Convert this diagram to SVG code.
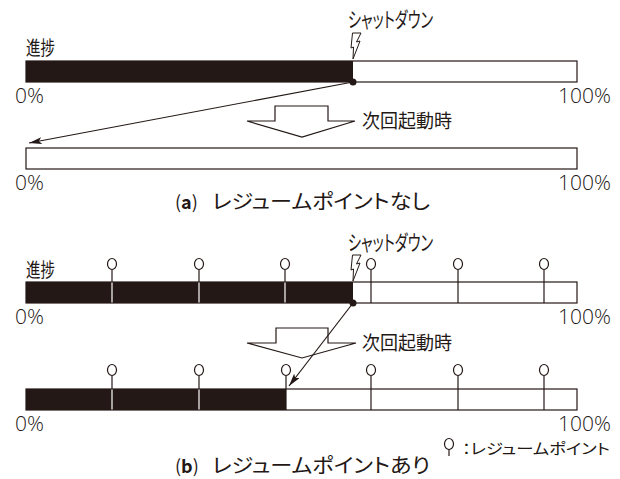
<svg xmlns="http://www.w3.org/2000/svg" width="620" height="479" viewBox="0 0 620 479">
  <defs>
    <style>
      .bar { fill: #ffffff; stroke: #231815; stroke-width: 1.2; }
      .done { fill: #231815; }
      .txt { font-family: "Noto Sans CJK JP", "Noto Sans", sans-serif; fill: #231815; font-feature-settings: "palt"; }
      .pct { font-family: "Open Sans", "Noto Sans", sans-serif; fill: #231815; font-size: 21px; font-weight: 300; }
      .line { fill: none; stroke: #231815; stroke-width: 1.2; }
      .hollow { fill: #ffffff; stroke: #231815; stroke-width: 1.2; stroke-linejoin: miter; }
      .bolt { fill: #ffffff; stroke: #231815; stroke-width: 1; stroke-linejoin: miter; }
      .pinhead { fill: #ffffff; stroke: #231815; stroke-width: 1.2; }
      .stem { stroke: #231815; stroke-width: 1.2; }
      .stemw { stroke: #ffffff; stroke-width: 1.2; }
    </style>
    <marker id="arrow" markerUnits="userSpaceOnUse" viewBox="0 0 13 7" refX="13" refY="3.5" markerWidth="13" markerHeight="7" orient="auto">
      <path d="M0,0 L13,3.5 L0,7 L3,3.5 Z" fill="#231815"/>
    </marker>
    <!-- resume point pin: head centred at origin, stem drawn separately -->
    <ellipse id="pin" cx="0" cy="0" rx="4.5" ry="5.5" class="pinhead"/>
    <!-- power-off lightning bolt, tip at origin -->
    <polygon id="bolt" points="-0.5,-26 8,-26 3.5,-17 7,-18 0,0 0.5,-12 -2,-11" class="bolt"/>
  </defs>

  <!-- (a) without resume points -->
  <g id="a-progress">
    <text class="txt" x="26" y="55" font-size="19" textLength="29" lengthAdjust="spacingAndGlyphs">進捗</text>
    <rect class="bar" x="26" y="61" width="551" height="21"/>
    <rect class="done" x="26" y="61" width="327" height="21"/>
    <text class="pct" x="15" y="103">0%</text>
    <text class="pct" x="611" y="103" text-anchor="end">100%</text>
  </g>
  <g id="a-shutdown">
    <text class="txt" x="348" y="27" font-size="21" textLength="85" lengthAdjust="spacingAndGlyphs">シャットダウン</text>
    <use href="#bolt" x="353" y="59"/>
  </g>
  <g id="a-next">
    <polygon class="hollow" points="275,106 328,106 328,121 355,121 302,137 247,121 275,121"/>
    <text class="txt" x="362" y="128" font-size="19" textLength="90" lengthAdjust="spacingAndGlyphs">次回起動時</text>
  </g>
  <g id="a-restart">
    <rect class="bar" x="26" y="148" width="551" height="21"/>
    <text class="pct" x="15" y="190">0%</text>
    <text class="pct" x="611" y="190" text-anchor="end">100%</text>
  </g>
  <g id="a-caption">
    <text class="txt" x="175" y="209" font-size="18">(<tspan font-weight="bold">a</tspan>)</text>
    <text class="txt" x="212" y="209" font-size="20" textLength="218" lengthAdjust="spacingAndGlyphs">レジュームポイントなし</text>
  </g>

  <!-- (b) with resume points -->
  <g id="b-progress">
    <text class="txt" x="26" y="277" font-size="19" textLength="29" lengthAdjust="spacingAndGlyphs">進捗</text>
    <rect class="bar" x="26" y="282" width="551" height="21"/>
    <rect class="done" x="26" y="282" width="327" height="21"/>
    <text class="pct" x="15" y="324">0%</text>
    <text class="pct" x="611" y="324" text-anchor="end">100%</text>
    <!-- resume points along the interrupted run -->
    <line class="stem" x1="112" y1="269.5" x2="112" y2="282"/>
    <line class="stemw" x1="112" y1="282.6" x2="112" y2="302.4"/>
    <line class="stem" x1="199" y1="269.5" x2="199" y2="282"/>
    <line class="stemw" x1="199" y1="282.6" x2="199" y2="302.4"/>
    <line class="stem" x1="285" y1="269.5" x2="285" y2="282"/>
    <line class="stemw" x1="285" y1="282.6" x2="285" y2="302.4"/>
    <line class="stem" x1="371" y1="269.5" x2="371" y2="303"/>
    <line class="stem" x1="458" y1="269.5" x2="458" y2="303"/>
    <line class="stem" x1="544" y1="269.5" x2="544" y2="303"/>
    <use href="#pin" x="112" y="264"/>
    <use href="#pin" x="199" y="264"/>
    <use href="#pin" x="285" y="264"/>
    <use href="#pin" x="371" y="264"/>
    <use href="#pin" x="458" y="264"/>
    <use href="#pin" x="544" y="264"/>
  </g>
  <g id="b-shutdown">
    <text class="txt" x="348" y="250" font-size="21" textLength="85" lengthAdjust="spacingAndGlyphs">シャットダウン</text>
    <use href="#bolt" x="353" y="281"/>
  </g>
  <g id="b-next">
    <polygon class="hollow" points="276,328 328,328 328,343 356,343 302,358 247,343 276,343"/>
    <text class="txt" x="362" y="350" font-size="19" textLength="90" lengthAdjust="spacingAndGlyphs">次回起動時</text>
  </g>
  <g id="b-restart">
    <rect class="bar" x="26" y="389" width="551" height="21"/>
    <rect class="done" x="26" y="389" width="260" height="21"/>
    <text class="pct" x="15" y="431">0%</text>
    <text class="pct" x="611" y="431" text-anchor="end">100%</text>
    <line class="stem" x1="112" y1="375.5" x2="112" y2="389"/>
    <line class="stemw" x1="112" y1="389.6" x2="112" y2="409.4"/>
    <line class="stem" x1="199" y1="375.5" x2="199" y2="389"/>
    <line class="stemw" x1="199" y1="389.6" x2="199" y2="409.4"/>
    <line class="stem" x1="286" y1="375.5" x2="286" y2="410"/>
    <line class="stem" x1="371" y1="375.5" x2="371" y2="410"/>
    <line class="stem" x1="458" y1="375.5" x2="458" y2="410"/>
    <line class="stem" x1="544" y1="375.5" x2="544" y2="410"/>
    <use href="#pin" x="112" y="370"/>
    <use href="#pin" x="199" y="370"/>
    <use href="#pin" x="286" y="370"/>
    <use href="#pin" x="371" y="370"/>
    <use href="#pin" x="458" y="370"/>
    <use href="#pin" x="544" y="370"/>
  </g>
  <g id="b-legend">
    <line class="stem" x1="449" y1="449.5" x2="449" y2="456"/>
    <use href="#pin" x="449" y="444"/>
    <text class="txt" x="462" y="454" font-size="15" textLength="148" lengthAdjust="spacingAndGlyphs">：レジュームポイント</text>
  </g>
  <g id="b-caption">
    <text class="txt" x="175" y="473" font-size="18">(<tspan font-weight="bold">b</tspan>)</text>
    <text class="txt" x="212" y="473" font-size="20" textLength="218" lengthAdjust="spacingAndGlyphs">レジュームポイントあり</text>
  </g>

  <!-- connectors: from the point of shutdown to where the next run resumes -->
  <g id="connectors">
    <line class="line" x1="353" y1="82" x2="29" y2="143" marker-end="url(#arrow)"/>
    <circle cx="353" cy="82" r="3.5" fill="#231815"/>
    <line class="line" x1="353" y1="303" x2="289" y2="386" marker-end="url(#arrow)"/>
    <circle cx="353" cy="303" r="3.5" fill="#231815"/>
  </g>
</svg>
